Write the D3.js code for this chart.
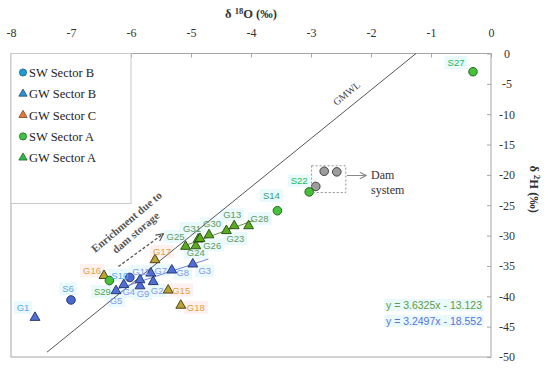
<!DOCTYPE html>
<html>
<head>
<meta charset="utf-8">
<script src="https://cdn.jsdelivr.net/npm/d3@7"></script>
<style>
  body { margin: 0; background: #fff; }
  text { font-family: "Liberation Serif", serif; }
  .lbl { font-family: "Liberation Sans", Arial, sans-serif; font-size: 9.5px; }
</style>
</head>
<body>
<svg width="550" height="372"></svg>
<script>
'use strict';

// tick values
const xTicks = [-8, -7, -6, -5, -4, -3, -2, -1, 0];
const yTicks = [0, -5, -10, -15, -20, -25, -30, -35, -40, -45, -50];

// δ18O (x) / δ2H (y)
const swSectorB = [
    { id: "S6",  x: -7.00, y: -40.6 },
    { id: "S10", x: -6.02, y: -36.9 }
];
const gwSectorB = [
    { id: "G1",  x: -7.60, y: -43.5 },
    { id: "G5",  x: -6.25, y: -39.1 },
    { id: "G4",  x: -6.12, y: -38.1 },
    { id: "G9",  x: -5.85, y: -38.3 },
    { id: "G11", x: -5.85, y: -37.3 },
    { id: "G2",  x: -5.63, y: -37.6 },
    { id: "G7",  x: -5.67, y: -36.2 },
    { id: "G8",  x: -5.32, y: -35.7 },
    { id: "G3",  x: -4.97, y: -34.7 }
];
const gwSectorC = [
    { id: "G16", x: -6.45, y: -36.6 },
    { id: "G17", x: -5.60, y: -34.0 },
    { id: "G15", x: -5.38, y: -39.0 },
    { id: "G18", x: -5.17, y: -41.5 }
];
const swSectorA = [
    { id: "S29", x: -6.36, y: -37.4 },
    { id: "S14", x: -3.56, y: -25.9 },
    { id: "S22", x: -3.03, y: -22.8 },
    { id: "S27", x: -0.30, y: -3.0 }
];
const gwSectorA = [
    { id: "G25", x: -5.09, y: -31.8 },
    { id: "G24", x: -4.92, y: -31.7 },
    { id: "G26", x: -4.88, y: -30.6 },
    { id: "G31", x: -4.85, y: -30.5 },
    { id: "G30", x: -4.70, y: -29.9 },
    { id: "G23", x: -4.41, y: -29.2 },
    { id: "G13", x: -4.28, y: -28.4 },
    { id: "G28", x: -4.04, y: -28.4 }
];
const damSystem = [
    { x: -2.78, y: -19.4 },
    { x: -2.57, y: -19.5 },
    { x: -2.92, y: -21.9 }
];

// regressions and meteoric water line
const gmwl = { slope: 8, intercept: 10, from: -7.4, to: -1.25 };
const fitA = { slope: 3.6325, intercept: -13.123, from: -5.13, to: -3.96 };
const fitB = { slope: 3.2497, intercept: -18.552, from: -6.30, to: -4.71 };

// label offsets (px) from their point
const labelOffset = {
    G1: [-12, -10], S6: [-3, -11], G16: [-12, -5], S10: [-10, -2], G11: [1, -8],
    G7: [10, -3], G8: [11, 3], G3: [12, 7], G17: [7, -8], S29: [-7, 11],
    G4: [5, 7], G5: [0, 10], G9: [3, 8], G2: [4, 9], G15: [13, 0], G18: [15, 2],
    G25: [-10, -10], G31: [-8, -10], G30: [3, -11], G13: [-2, -11], G28: [11, -7],
    G23: [9, 8], G26: [14, 6], G24: [0, 7], S14: [-6, -15], S22: [-10, -11], S27: [-17, -9]
};

const svg = d3.select("svg"),
    x = d3.scaleLinear().domain([-8, 0]).range([11, 491]),
    y = d3.scaleLinear().domain([0, -50]).range([53.5, 357]);

// frame
svg.append("rect")
    .attr("x", x(-8)).attr("y", y(0))
    .attr("width", x(0) - x(-8)).attr("height", y(-50) - y(0))
    .attr("fill", "none").attr("stroke", "#a6a6a6");

// top axis
const xAxis = svg.append("g")
    .attr("transform", `translate(0,${y(0)})`)
    .call(d3.axisTop(x).tickValues(xTicks).tickSize(-4).tickPadding(17).tickFormat(d => String(d)));
xAxis.attr("font-family", null);
xAxis.select(".domain").remove();
xAxis.selectAll("line").attr("stroke", "#a6a6a6");
xAxis.selectAll("text").attr("font-size", 12).attr("fill", "#333");

// right axis
const yAxis = svg.append("g")
    .attr("transform", `translate(${x(0)},0)`)
    .call(d3.axisRight(y).tickValues(yTicks).tickSize(-4).tickPadding(16).tickFormat(d => String(d)));
yAxis.attr("font-family", null);
yAxis.select(".domain").remove();
yAxis.selectAll("line").attr("stroke", "#a6a6a6");
yAxis.selectAll("text").attr("font-size", 12).attr("fill", "#333").attr("text-anchor", "middle");

// axis titles
const xTitle = svg.append("text")
    .attr("x", (x(-8) + x(0)) / 2).attr("y", 18)
    .attr("text-anchor", "middle").attr("font-size", 12.5).attr("font-weight", "bold").attr("fill", "#333");
xTitle.append("tspan").text("δ ");
xTitle.append("tspan").attr("font-size", 8.5).attr("dy", -4).text("18");
xTitle.append("tspan").attr("dy", 4).text("O (‰)");

const yTitle = svg.append("text")
    .attr("transform", `translate(530,${(y(0) + y(-50)) / 2 - 16}) rotate(90)`)
    .attr("text-anchor", "middle").attr("font-size", 12.5).attr("font-weight", "bold").attr("fill", "#333");
yTitle.append("tspan").text("δ ");
yTitle.append("tspan").attr("font-size", 8.5).attr("dy", -4).text("2");
yTitle.append("tspan").attr("dy", 4).text("H (‰)");

// layers
const bgLayer = svg.append("g"),
    lineLayer = svg.append("g"),
    markLayer = svg.append("g"),
    textLayer = svg.append("g");

// lines
function drawLine(l, color, width) {
    lineLayer.append("line")
        .attr("x1", x(l.from)).attr("y1", y(l.slope * l.from + l.intercept))
        .attr("x2", x(l.to)).attr("y2", y(l.slope * l.to + l.intercept))
        .attr("stroke", color).attr("stroke-width", width);
}
drawLine(gmwl, "#555", 1);
drawLine(fitA, "#5f8f4a", 1);
drawLine(fitB, "#7485d8", 1);

// GMWL label along the line
const angle = Math.atan2(y(8) - y(0), x(1) - x(0)) * 180 / Math.PI;
svg.append("text")
    .attr("transform", `translate(${x(-2.27) - 6},${y(8 * -2.27 + 10) - 7}) rotate(${angle})`)
    .attr("text-anchor", "middle").attr("font-size", 10).attr("fill", "#444")
    .text("GMWL");

const tri = d3.symbol(d3.symbolTriangle, 42);

function drawSeries(data, shape, fill, stroke) {
    const sel = markLayer.selectAll(null).data(data).enter();
    if (shape === "circle") {
        sel.append("circle")
            .attr("cx", d => x(d.x)).attr("cy", d => y(d.y)).attr("r", 4.3)
            .attr("fill", fill).attr("stroke", stroke).attr("stroke-width", 0.9);
    } else {
        sel.append("path")
            .attr("d", tri)
            .attr("transform", d => `translate(${x(d.x)},${y(d.y)})`)
            .attr("fill", fill).attr("stroke", stroke).attr("stroke-width", 0.9);
    }
}

function drawLabels(data, color, bg) {
    data.forEach(d => {
        const o = labelOffset[d.id] || [0, -10];
        const c = typeof color === "function" ? color(d) : color;
        const t = textLayer.append("text")
            .attr("class", "lbl")
            .attr("x", x(d.x) + o[0]).attr("y", y(d.y) + o[1] + 3.3)
            .attr("text-anchor", "middle").attr("fill", c)
            .text(d.id);
        const b = t.node().getBBox();
        bgLayer.append("rect")
            .attr("x", b.x - 3).attr("y", b.y - 1)
            .attr("width", b.width + 6).attr("height", b.height + 2)
            .attr("fill", bg);
    });
}

drawLabels(swSectorB, "#5aa8e6", "#eaf9fb");
drawLabels(gwSectorB, d => d.id === "G1" ? "#5aa8e6" : "#8197ec", "#eaf9fb");
drawLabels(gwSectorC, "#e2a13e", "#fdf1ef");
drawLabels(swSectorA, d => d.id === "S29" ? "#4fa34f" : (d.id === "S14" ? "#3a9e73" : "#17bb5a"), "#eaf9fb");
drawLabels(gwSectorA, "#5f9a5f", "#eaf9fb");

drawSeries(damSystem, "circle", "#9d9d9d", "#333");
drawSeries(swSectorB, "circle", "#4a69d0", "#1f2d6a");
drawSeries(gwSectorB, "tri", "#4f6fd6", "#1f2d6a");
drawSeries(gwSectorC, "tri", "#bba332", "#3d3410");
drawSeries(swSectorA, "circle", "#45c23a", "#1d5a1a");
drawSeries(gwSectorA, "tri", "#5aab1e", "#244a10");

// dam system box + arrow
const damBox = { x0: -2.99, x1: -2.42, y0: -18.5, y1: -22.9 };
svg.append("rect")
    .attr("x", x(damBox.x0)).attr("y", y(damBox.y0))
    .attr("width", x(damBox.x1) - x(damBox.x0)).attr("height", y(damBox.y1) - y(damBox.y0))
    .attr("fill", "none").attr("stroke", "#888").attr("stroke-dasharray", "2,2").attr("stroke-width", 0.9);

const defs = svg.append("defs");
defs.append("marker").attr("id", "chev").attr("viewBox", "0 0 10 10")
    .attr("refX", 9).attr("refY", 5).attr("markerWidth", 8).attr("markerHeight", 8)
    .attr("markerUnits", "userSpaceOnUse").attr("orient", "auto")
    .append("path").attr("d", "M1,1 L9,5 L1,9").attr("fill", "none").attr("stroke", "#888").attr("stroke-width", 1.3);
defs.append("marker").attr("id", "chevDark").attr("viewBox", "0 0 10 10")
    .attr("refX", 9).attr("refY", 5).attr("markerWidth", 9).attr("markerHeight", 9)
    .attr("markerUnits", "userSpaceOnUse").attr("orient", "auto")
    .append("path").attr("d", "M1,1 L9,5 L1,9").attr("fill", "none").attr("stroke", "#555").attr("stroke-width", 1.3);

svg.append("line")
    .attr("x1", x(-2.40)).attr("y1", y(-20.1)).attr("x2", x(-2.08)).attr("y2", y(-20.1))
    .attr("stroke", "#888").attr("stroke-width", 1).attr("marker-end", "url(#chev)");

svg.append("text").attr("x", x(-2.0)).attr("y", y(-20.1) + 3)
    .attr("font-size", 12).attr("fill", "#333").text("Dam");
svg.append("text").attr("x", x(-2.0)).attr("y", y(-20.1) + 18)
    .attr("font-size", 12).attr("fill", "#333").text("system");

// enrichment annotation
svg.append("line")
    .attr("x1", x(-6.21)).attr("y1", y(-35.1)).attr("x2", x(-5.46)).attr("y2", y(-29.7))
    .attr("stroke", "#555").attr("stroke-width", 1.3).attr("stroke-dasharray", "3,2")
    .attr("marker-end", "url(#chevDark)");

const enr = svg.append("g")
    .attr("transform", `translate(${x(-6.0)},${y(-28.6)}) rotate(-40)`);
enr.append("text").attr("y", -3).attr("text-anchor", "middle")
    .attr("font-size", 11).attr("font-weight", "bold").attr("fill", "#555").text("Enrichment due to");
enr.append("text").attr("y", 11).attr("text-anchor", "middle")
    .attr("font-size", 11).attr("font-weight", "bold").attr("fill", "#555").text("dam storage");

// regression equations
const eqs = [
    { text: "y = 3.6325x - 13.123", color: "#5c9a4a" },
    { text: "y = 3.2497x - 18.552", color: "#5a72d8" }
];
const eqBg = svg.append("g"), eqText = svg.append("g");
eqs.forEach((e, i) => {
    const t = eqText.append("text")
        .attr("class", "lbl").style("font-size", "10.5px")
        .attr("x", 482).attr("y", 309 + i * 16)
        .attr("text-anchor", "end").attr("fill", e.color).text(e.text);
    const b = t.node().getBBox();
    eqBg.append("rect")
        .attr("x", b.x - 2).attr("y", b.y).attr("width", b.width + 4).attr("height", b.height)
        .attr("fill", "#eaf9fb");
});

// legend
const legendItems = [
    { name: "SW Sector B", shape: "circle", fill: "#1e9bd7", stroke: "#14507a" },
    { name: "GW Sector B", shape: "tri", fill: "#2f8fd0", stroke: "#14406a" },
    { name: "GW Sector C", shape: "tri", fill: "#e07a3a", stroke: "#6a3410" },
    { name: "SW Sector A", shape: "circle", fill: "#3ec43e", stroke: "#1d5a1a" },
    { name: "GW Sector A", shape: "tri", fill: "#2fb84a", stroke: "#1a5a1a" }
];
svg.append("rect")
    .attr("x", x(-8)).attr("y", y(0)).attr("width", 120).attr("height", 150)
    .attr("fill", "#fff").attr("stroke", "#c8c8c8");
const lg = svg.append("g").attr("transform", `translate(23,${y(0) + 19})`);
legendItems.forEach((d, i) => {
    const g = lg.append("g").attr("transform", `translate(0,${i * 21.3})`);
    if (d.shape === "circle") {
        g.append("circle").attr("r", 3.6).attr("fill", d.fill).attr("stroke", d.stroke).attr("stroke-width", 0.7);
    } else {
        g.append("path").attr("d", d3.symbol(d3.symbolTriangle, 30)).attr("fill", d.fill)
            .attr("stroke", d.stroke).attr("stroke-width", 0.7);
    }
    g.append("text").attr("x", 6).attr("y", 4.5).attr("font-size", 12.5).attr("fill", "#222").text(d.name);
});
</script>
</body>
</html>
